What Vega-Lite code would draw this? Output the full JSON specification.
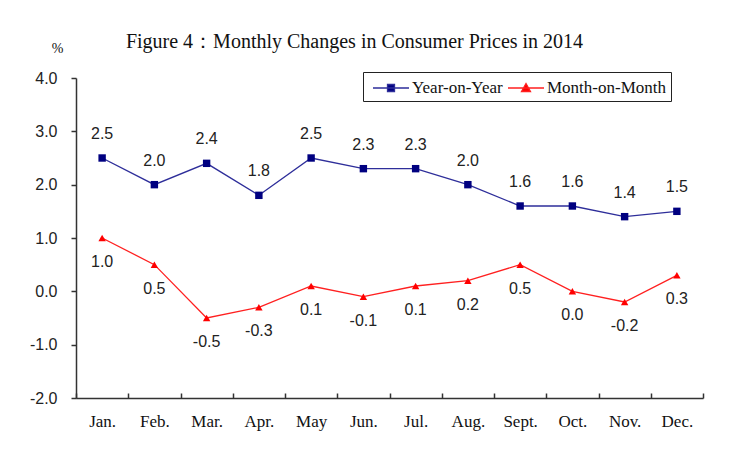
{
  "$schema": "https://vega.github.io/schema/vega-lite/v6.json",
  "width": 627,
  "height": 320,
  "autosize": {"type": "none"},
  "padding": {"left": 76, "top": 78, "right": 33, "bottom": 62},
  "background": "white",
  "title": {
    "text": "Figure 4：Monthly Changes in Consumer Prices in 2014",
    "font": "Liberation Serif",
    "fontSize": 20,
    "fontWeight": "normal",
    "color": "#111",
    "anchor": "middle",
    "frame": "group",
    "offset": -11,
    "dx": -35
  },
  "config": {
    "locale": {"number": {"decimal": ".", "thousands": ",", "grouping": [3], "currency": ["$", ""], "minus": "-"}},
    "view": {"stroke": null},
    "axis": {"grid": false, "domainColor": "#333", "tickColor": "#333", "domainWidth": 1.5, "tickWidth": 1.5}
  },
  "data": {
    "values": [
      {"month": "Jan.", "series": "Year-on-Year", "value": 2.5},
      {"month": "Feb.", "series": "Year-on-Year", "value": 2.0},
      {"month": "Mar.", "series": "Year-on-Year", "value": 2.4},
      {"month": "Apr.", "series": "Year-on-Year", "value": 1.8},
      {"month": "May", "series": "Year-on-Year", "value": 2.5},
      {"month": "Jun.", "series": "Year-on-Year", "value": 2.3},
      {"month": "Jul.", "series": "Year-on-Year", "value": 2.3},
      {"month": "Aug.", "series": "Year-on-Year", "value": 2.0},
      {"month": "Sept.", "series": "Year-on-Year", "value": 1.6},
      {"month": "Oct.", "series": "Year-on-Year", "value": 1.6},
      {"month": "Nov.", "series": "Year-on-Year", "value": 1.4},
      {"month": "Dec.", "series": "Year-on-Year", "value": 1.5},
      {"month": "Jan.", "series": "Month-on-Month", "value": 1.0},
      {"month": "Feb.", "series": "Month-on-Month", "value": 0.5},
      {"month": "Mar.", "series": "Month-on-Month", "value": -0.5},
      {"month": "Apr.", "series": "Month-on-Month", "value": -0.3},
      {"month": "May", "series": "Month-on-Month", "value": 0.1},
      {"month": "Jun.", "series": "Month-on-Month", "value": -0.1},
      {"month": "Jul.", "series": "Month-on-Month", "value": 0.1},
      {"month": "Aug.", "series": "Month-on-Month", "value": 0.2},
      {"month": "Sept.", "series": "Month-on-Month", "value": 0.5},
      {"month": "Oct.", "series": "Month-on-Month", "value": 0.0},
      {"month": "Nov.", "series": "Month-on-Month", "value": -0.2},
      {"month": "Dec.", "series": "Month-on-Month", "value": 0.3}
    ]
  },
  "encoding": {
    "x": {
      "field": "month",
      "type": "nominal",
      "sort": null,
      "scale": {"paddingInner": 0, "paddingOuter": 0},
      "axis": {
        "title": null,
        "labelAngle": 0,
        "labelFont": "Liberation Serif",
        "labelFontSize": 17,
        "labelColor": "#111",
        "labelPadding": 20,
        "tickBand": "extent",
        "tickSize": -5
      }
    },
    "y": {
      "field": "value",
      "type": "quantitative",
      "scale": {"domain": [-2, 4], "nice": false},
      "axis": {
        "values": [-2, -1, 0, 1, 2, 3, 4],
        "format": ".1f",
        "labelFont": "Liberation Sans",
        "labelFontSize": 16,
        "labelColor": "#222",
        "labelPadding": 14,
        "tickSize": 5,
        "title": "%",
        "titleAngle": 0,
        "titleFont": "Liberation Serif",
        "titleFontSize": 14,
        "titleFontWeight": "normal",
        "titleColor": "#111",
        "titleX": -19,
        "titleY": -23,
        "titleAlign": "center"
      }
    },
    "color": {
      "field": "series",
      "type": "nominal",
      "scale": {"domain": ["Year-on-Year", "Month-on-Month"], "range": ["#2e2e9a", "#ff2020"]},
      "legend": null
    }
  },
  "layer": [
    {
      "mark": {"type": "line", "strokeWidth": 1.3},
      "encoding": {
        "color": {
          "field": "series",
          "type": "nominal",
          "scale": {"domain": ["Year-on-Year", "Month-on-Month"], "range": ["#2e2e9a", "#ff2020"]},
          "legend": {
            "title": null,
            "orient": "none",
            "legendX": 287,
            "legendY": -6,
            "direction": "horizontal",
            "strokeColor": "#222",
            "padding": 5,
            "labelFont": "Liberation Serif",
            "labelFontSize": 17,
            "labelColor": "#111",
            "symbolSize": 400,
            "symbolOffset": 12,
            "symbolStrokeWidth": 1.3,
            "columnPadding": 0,
            "labelOffset": 10,
            "offset": 0,
            "encode": {
              "symbols": {
                "update": {
                  "shape": {"signal": "datum.value === 'Year-on-Year' ? 'M-1.8,0H1.8M-0.35,-0.35H0.35V0.35H-0.35Z' : 'M-1.8,0H1.8M0,-0.45L0.45,0.35H-0.45Z'"},
                  "fill": {"signal": "datum.value === 'Year-on-Year' ? '#000080' : '#ff0000'"},
                  "stroke": {"signal": "datum.value === 'Year-on-Year' ? '#2e2e9a' : '#ff2020'"}
                }
              }
            }
          }
        }
      }
    },
    {
      "mark": {"type": "point", "filled": true, "opacity": 1},
      "encoding": {
        "shape": {
          "field": "series",
          "type": "nominal",
          "scale": {"domain": ["Year-on-Year", "Month-on-Month"], "range": ["square", "triangle-up"]},
          "legend": null
        },
        "color": {
          "field": "series",
          "type": "nominal",
          "scale": {"domain": ["Year-on-Year", "Month-on-Month"], "range": ["#000080", "#ff0000"]},
          "legend": null
        },
        "size": {"value": 55}
      }
    },
    {
      "transform": [{"filter": "datum.series === 'Year-on-Year'"}],
      "mark": {"type": "text", "dy": -24, "font": "Liberation Sans", "fontSize": 16, "color": "#222"},
      "encoding": {
        "text": {"field": "value", "type": "quantitative", "format": ".1f"},
        "color": {"value": "#222"}
      }
    },
    {
      "transform": [{"filter": "datum.series === 'Month-on-Month'"}],
      "mark": {"type": "text", "dy": 24, "font": "Liberation Sans", "fontSize": 16, "color": "#222"},
      "encoding": {
        "text": {"field": "value", "type": "quantitative", "format": ".1f"},
        "color": {"value": "#222"}
      }
    }
  ],
  "resolve": {"scale": {"color": "independent"}}
}
